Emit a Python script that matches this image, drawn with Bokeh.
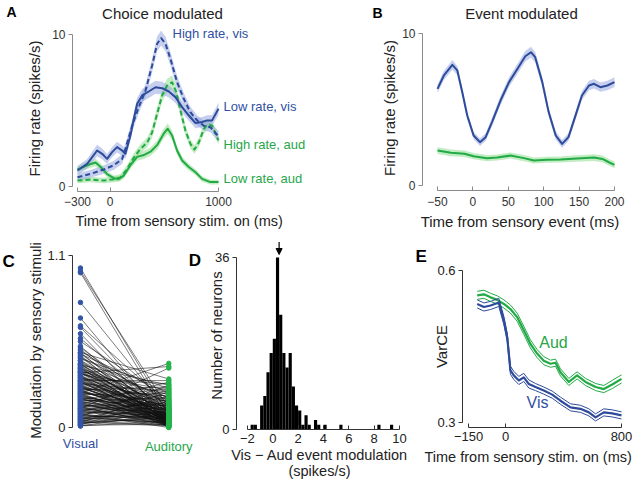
import numpy as np
from bokeh.plotting import figure
from bokeh.layouts import column, row
from bokeh.models import Label, FixedTicker, Arrow, NormalHead, Title, LinearAxis
from bokeh.core.properties import value
from bokeh.embed import file_html
from bokeh.resources import INLINE

FONT = "Liberation Sans"
BLUE = "#2d4a9b"
BLUE_BAND = "#97a9e0"
GREEN = "#22aa46"
GREEN_BAND = "#8fdc8f"
BLUE_TXT = "#3050a3"
GREEN_TXT = "#27a64a"
TXT = "#222222"
BASE_SHIFT = 0.37  # em; where the renderer puts an "alphabetic" baseline vs. the target

# ---------------- Panel A: choice modulated (time ms, firing rate spikes/s)
a_t_lowvis = [-300, -211, -119, -73, -27, 19, 65, 111, 142, 188, 219, 250, 296, 357, 419, 480, 542, 603, 665, 726, 788, 849, 895, 941, 1000]
a_v_lowvis = [1.05, 1.49, 2.37, 2.15, 1.82, 2.26, 2.59, 2.37, 2.15, 3.36, 4.45, 5.44, 5.99, 6.25, 6.53, 6.47, 6.25, 5.88, 5.22, 4.67, 4.17, 4.24, 4.35, 4.35, 5.11]
a_s_lowvis = [0.30, 0.32, 0.38, 0.35, 0.32, 0.33, 0.36, 0.34, 0.32, 0.35, 0.38, 0.40, 0.42, 0.42, 0.43, 0.42, 0.40, 0.38, 0.37, 0.35, 0.33, 0.33, 0.34, 0.36, 0.40]

a_t_highvis = [-300, -180, -57, 35, 111, 142, 204, 265, 327, 388, 434, 471, 511, 557, 618, 680, 741, 803, 864, 926, 1000]
a_v_highvis = [0.61, 0.83, 1.12, 1.40, 1.80, 2.48, 4.00, 5.22, 6.31, 7.96, 9.39, 9.76, 9.39, 8.40, 6.86, 5.77, 4.89, 4.35, 4.00, 3.90, 3.30]
a_s_highvis = [0.25, 0.26, 0.28, 0.30, 0.32, 0.35, 0.38, 0.40, 0.42, 0.45, 0.48, 0.50, 0.48, 0.45, 0.42, 0.38, 0.35, 0.33, 0.32, 0.33, 0.36]

a_t_highaud = [-300, -180, -57, 19, 96, 157, 219, 280, 342, 388, 434, 480, 526, 572, 612, 649, 695, 741, 778, 818, 864, 901, 941, 1000]
a_v_highaud = [0.39, 0.46, 0.39, 0.46, 0.60, 1.15, 1.90, 2.48, 2.89, 3.55, 4.78, 5.99, 6.64, 6.86, 6.20, 5.00, 3.68, 2.80, 2.43, 2.89, 3.77, 4.10, 4.00, 3.03]
a_s_highaud = [0.18, 0.18, 0.18, 0.20, 0.22, 0.25, 0.28, 0.30, 0.32, 0.35, 0.40, 0.42, 0.45, 0.45, 0.42, 0.38, 0.34, 0.30, 0.28, 0.30, 0.33, 0.32, 0.30, 0.28]

a_t_lowaud = [-300, -211, -134, -88, -27, 35, 81, 127, 188, 250, 311, 373, 434, 496, 532, 572, 618, 665, 726, 788, 849, 926, 1000]
a_v_lowaud = [1.12, 1.40, 1.58, 1.30, 0.81, 0.55, 0.50, 0.72, 1.40, 1.95, 2.07, 2.29, 2.72, 3.49, 3.80, 3.36, 2.37, 1.71, 1.28, 0.94, 0.50, 0.29, 0.29]
a_s_lowaud = [0.22, 0.24, 0.25, 0.23, 0.20, 0.18, 0.18, 0.20, 0.24, 0.26, 0.26, 0.27, 0.30, 0.32, 0.34, 0.32, 0.28, 0.25, 0.22, 0.20, 0.18, 0.16, 0.16]

a_xticks = [-300, 0, 1000]
a_yticks = [0, 10]
a_labels = ["High rate, vis", "Low rate, vis", "High rate, aud", "Low rate, aud"]

# ---------------- Panel B: event modulated
b_t_vis = [-50, -41, -29, -22, -15, -8, 1, 10, 18, 27, 39, 51, 63, 74, 82, 88, 98, 107, 117, 126, 135, 145, 154, 164, 171, 180, 190, 200]
b_v_vis = [6.36, 7.24, 7.94, 7.57, 6.14, 4.61, 3.29, 2.85, 3.18, 4.17, 5.59, 6.80, 7.68, 8.50, 8.77, 8.44, 6.80, 4.83, 3.29, 2.74, 3.18, 4.61, 5.92, 6.58, 6.69, 6.47, 6.58, 6.80]
b_s_vis = [0.28, 0.30, 0.32, 0.30, 0.28, 0.26, 0.25, 0.25, 0.26, 0.28, 0.30, 0.32, 0.33, 0.35, 0.36, 0.35, 0.32, 0.29, 0.26, 0.25, 0.26, 0.28, 0.30, 0.31, 0.31, 0.30, 0.31, 0.32]
b_t_aud = [-50, -31, -12, 1, 20, 34, 53, 72, 86, 105, 124, 147, 171, 183, 192, 200]
b_v_aud = [2.30, 2.15, 2.09, 1.93, 1.80, 1.84, 1.97, 1.80, 1.64, 1.69, 1.71, 1.78, 1.84, 1.75, 1.53, 1.36]
b_s_aud = [0.22, 0.22, 0.21, 0.21, 0.20, 0.20, 0.20, 0.20, 0.20, 0.20, 0.20, 0.21, 0.22, 0.22, 0.22, 0.22]
b_xticks = [-50, 0, 50, 100, 150, 200]
b_yticks = [0, 10]

# ---------------- Panel C: modulation by sensory stimuli (per neuron)
c_categories = ["Visual", "Auditory"]
c_visual = [1.02, 1.00, 0.99, 0.80, 0.70, 0.65, 0.64, 0.60, 0.57, 0.55, 0.52, 0.51,
            0.22, 0.35, 0.12, 0.48, 0.30,
            0.50, 0.49, 0.48, 0.47, 0.47, 0.46, 0.45, 0.45, 0.44, 0.43, 0.43, 0.42, 0.41, 0.41, 0.40,
            0.40, 0.39, 0.38, 0.38, 0.37, 0.36, 0.36, 0.35, 0.35, 0.34, 0.33, 0.33, 0.32, 0.32, 0.31,
            0.30, 0.30, 0.29, 0.29, 0.28, 0.28, 0.27, 0.27, 0.26, 0.26, 0.25, 0.25, 0.24, 0.24, 0.23,
            0.23, 0.22, 0.22, 0.21, 0.21, 0.20, 0.20, 0.19, 0.19, 0.18, 0.18, 0.17, 0.17, 0.16, 0.16,
            0.15, 0.15, 0.14, 0.14, 0.13, 0.13, 0.12, 0.12, 0.11, 0.11, 0.10, 0.10, 0.09, 0.09, 0.08,
            0.08, 0.07, 0.07, 0.06, 0.06, 0.05, 0.05, 0.04, 0.04, 0.03, 0.03, 0.02, 0.02, 0.01, 0.01,
            0.015, 0.025, 0.035, 0.045, 0.055, 0.065, 0.075, 0.085, 0.095, 0.105, 0.115, 0.125, 0.135,
            0.145, 0.155, 0.165, 0.175, 0.185, 0.195, 0.205, 0.215, 0.225, 0.235, 0.245, 0.255, 0.265,
            0.275, 0.285, 0.295, 0.305, 0.315, 0.325, 0.335, 0.345, 0.355, 0.365, 0.375, 0.385, 0.395, 0.405]
c_auditory = [0.08, 0.12, 0.05, 0.10, 0.03, 0.15, 0.06, 0.02, 0.09, 0.18, 0.04, 0.11,
              0.41, 0.39, 0.38, 0.31, 0.30,
              0.06, 0.14, 0.02, 0.22, 0.09, 0.01, 0.17, 0.05, 0.25, 0.11, 0.03, 0.08, 0.19, 0.04, 0.13,
              0.27, 0.07, 0.02, 0.16, 0.10, 0.21, 0.05, 0.01, 0.12, 0.24, 0.08, 0.03, 0.15, 0.06, 0.28,
              0.09, 0.02, 0.18, 0.04, 0.11, 0.23, 0.07, 0.01, 0.14, 0.05, 0.20, 0.10, 0.03, 0.26, 0.08,
              0.13, 0.02, 0.17, 0.06, 0.22, 0.04, 0.09, 0.15, 0.01, 0.12, 0.25, 0.07, 0.19, 0.03, 0.11,
              0.05, 0.29, 0.08, 0.14, 0.02, 0.21, 0.06, 0.10, 0.16, 0.04, 0.24, 0.09, 0.01, 0.13, 0.18,
              0.05, 0.27, 0.07, 0.12, 0.03, 0.20, 0.08, 0.15, 0.02, 0.23, 0.06, 0.11, 0.17, 0.04, 0.09,
              0.02, 0.07, 0.01, 0.04, 0.10, 0.03, 0.06, 0.00, 0.08, 0.02, 0.05, 0.12, 0.01,
              0.09, 0.03, 0.06, 0.14, 0.02, 0.04, 0.07, 0.01, 0.11, 0.05, 0.03, 0.08, 0.00,
              0.06, 0.13, 0.02, 0.09, 0.04, 0.01, 0.07, 0.16, 0.03, 0.05, 0.10, 0.02, 0.06, 0.04]
c_yticks = [0, 1.1]

# ---------------- Panel D: histogram of Vis - Aud event modulation
d_bin_start = -1.75
d_bin_width = 0.25
d_counts = [1, 1, 0, 5, 7, 12, 16, 19, 36, 24, 16, 13, 16, 9, 5, 4, 1, 3, 1, 0, 2, 1, 0, 1,
            0, 0, 0, 0, 1, 0, 0, 0, 0, 0, 0, 0, 0, 0, 0, 0, 1, 0, 0, 0, 1]
d_median = 0.5
d_xticks = [-2, 0, 2, 4, 6, 8, 10]
d_yticks = [0, 36]

# ---------------- Panel E: VarCE
e_t_aud = [-195, -149, -103, -57, -11, 34, 80, 126, 172, 218, 264, 310, 345, 379, 437, 494, 552, 621, 678, 736, 800]
e_v_aud = [0.551, 0.553, 0.547, 0.542, 0.534, 0.524, 0.508, 0.482, 0.455, 0.436, 0.422, 0.416, 0.418, 0.399, 0.380, 0.393, 0.380, 0.370, 0.366, 0.375, 0.386]
e_s_aud = [0.008, 0.008, 0.008, 0.008, 0.008, 0.008, 0.008, 0.008, 0.008, 0.008, 0.008, 0.007, 0.007, 0.007, 0.007, 0.007, 0.007, 0.007, 0.007, 0.008, 0.008]
e_t_vis = [-195, -149, -103, -46, -11, 12, 34, 57, 92, 126, 161, 207, 264, 322, 379, 448, 517, 575, 621, 678, 736, 800]
e_v_vis = [0.534, 0.528, 0.531, 0.537, 0.501, 0.468, 0.403, 0.393, 0.383, 0.389, 0.376, 0.370, 0.363, 0.355, 0.343, 0.330, 0.327, 0.320, 0.310, 0.320, 0.318, 0.314]
e_s_vis = [0.008, 0.008, 0.008, 0.008, 0.008, 0.008, 0.008, 0.008, 0.008, 0.008, 0.008, 0.007, 0.007, 0.007, 0.007, 0.007, 0.007, 0.007, 0.007, 0.007, 0.007, 0.007]
e_xtick_pos = [-255, 0, 800]
e_xtick_lab = ["\u2212150", "0", "800"]
e_yticks = [0.3, 0.6]


def lin(p1, v1, p2, v2):
    k = (v2 - v1) / (p2 - p1)
    return lambda p: v1 + (p - p1) * k


def no_align(p):
    try:
        p.frame_align = False
    except Exception:
        pass


def panel(box, frame, xmap, ymap):
    bl, bt, br, bb = box
    fl, ft, fr, fb = frame
    fx = lin(*xmap)
    fy = lin(*ymap)
    p = figure(width=br - bl, height=bb - bt,
               x_range=(fx(fl), fx(fr)), y_range=(fy(fb), fy(ft)),
               output_backend="svg", toolbar_location=None,
               min_border_left=fl - bl, min_border_right=br - fr,
               min_border_top=ft - bt, min_border_bottom=bb - fb)
    p.xgrid.visible = False
    p.ygrid.visible = False
    p.outline_line_color = None
    p.background_fill_color = "white"
    p.border_fill_color = "white"
    no_align(p)
    return p, fx, fy


def text_canvas(box):
    bl, bt, br, bb = box
    p = figure(width=br - bl, height=bb - bt, x_range=(bl, br), y_range=(bb, bt),
               output_backend="svg", toolbar_location=None,
               x_axis_location=None, y_axis_location=None, min_border=0)
    p.xgrid.visible = False
    p.ygrid.visible = False
    p.outline_line_color = None
    p.background_fill_color = "white"
    p.border_fill_color = "white"
    no_align(p)
    return p


def style(p, xticks, yticks, xb, yb, axis_color, lab_color, tick_size,
          xover=None, yover=None, xstand=5, ystand=3):
    for ax, ticks, b, over in ((p.xaxis[0], xticks, xb, xover), (p.yaxis[0], yticks, yb, yover)):
        ax.ticker = FixedTicker(ticks=ticks)
        ax.bounds = b
        ax.axis_line_color = axis_color
        ax.major_tick_line_color = axis_color
        ax.minor_tick_line_color = None
        ax.major_label_text_font = FONT
        ax.major_label_text_font_size = tick_size
        ax.major_label_text_color = lab_color
        ax.axis_label_text_font = FONT
        ax.axis_label_text_font_style = "normal"
        ax.axis_label_text_font_size = "15px"
        ax.axis_label_text_color = TXT
        if over:
            ax.major_label_overrides = over
    p.xaxis.major_tick_in = 4
    p.xaxis.major_tick_out = 0
    p.yaxis.major_tick_in = 0
    p.yaxis.major_tick_out = 4
    p.xaxis.major_label_standoff = xstand
    p.yaxis.major_label_standoff = ystand


def lab(p, fx, fy, x, y, text, size, color=TXT, align="left", bold=False):
    # y is the target baseline in picture pixels
    p.add_layout(Label(x=fx(x), y=fy(y - BASE_SHIFT * size), text=text, text_font=FONT,
                       text_font_size=f"{size}px", text_color=color,
                       text_align=align, text_baseline="alphabetic",
                       text_font_style="bold" if bold else "normal"))


def below_title(p, text, offset, standoff):
    p.add_layout(Title(text=text, align="left", offset=offset, vertical_align="top",
                       standoff=standoff, text_font=FONT, text_font_size="14.5px",
                       text_font_style="normal", text_color=TXT), "below")


def ctext(p, x, y, text, size, bold=False, align="left", color="#000000"):
    p.text(x=[x], y=[y - BASE_SHIFT * size], text=[text], text_font=value(FONT),
           text_font_size=f"{size}px", text_font_style="bold" if bold else "normal",
           text_align=align, text_baseline="alphabetic", text_color=color)


# ======== header (panel letters and titles of the top row)
pH = text_canvas((0, 0, 640, 22))
ctext(pH, 6, 17, "A", 14, bold=True)
ctext(pH, 162, 18.5, "Choice modulated", 15, align="center", color=TXT)
ctext(pH, 372, 17.3, "B", 14, bold=True)
ctext(pH, 521, 18.5, "Event modulated", 15, align="center", color=TXT)

# ======== A
pA, fxA, fyA = panel((0, 22, 318, 241), (72, 25, 318, 191), (77, -300, 218, 1000), (186, 0, 34, 10))
for t, v, s, band in ((a_t_lowaud, a_v_lowaud, a_s_lowaud, GREEN_BAND),
                      (a_t_highaud, a_v_highaud, a_s_highaud, GREEN_BAND),
                      (a_t_lowvis, a_v_lowvis, a_s_lowvis, BLUE_BAND),
                      (a_t_highvis, a_v_highvis, a_s_highvis, BLUE_BAND)):
    v = np.array(v); s = np.array(s)
    pA.varea(x=t, y1=v - s, y2=v + s, fill_color=band, fill_alpha=0.55)
for t, v, col, dash in ((a_t_lowaud, a_v_lowaud, GREEN, "solid"),
                        (a_t_highaud, a_v_highaud, GREEN, "5 3"),
                        (a_t_lowvis, a_v_lowvis, BLUE, "solid"),
                        (a_t_highvis, a_v_highvis, BLUE, "5 3")):
    pA.line(t, v, line_color=col, line_width=2, line_dash=dash, line_join="round")
style(pA, a_xticks, a_yticks, (-300, 1000), (0, 10), "#8a8a8a", "#333333", "12px",
      xover={-300: "\u2212300"}, xstand=5, ystand=3)
pA.yaxis.axis_label = "Firing rate (spikes/s)"
pA.yaxis.axis_label_standoff = 6
below_title(pA, "Time from sensory stim. on (ms)", 3, 9)
lab(pA, fxA, fyA, 172, 38.3, a_labels[0], 13, BLUE_TXT)
lab(pA, fxA, fyA, 223, 110.5, a_labels[1], 13, BLUE_TXT)
lab(pA, fxA, fyA, 223, 149.0, a_labels[2], 13, GREEN_TXT)
lab(pA, fxA, fyA, 223, 183.0, a_labels[3], 13, GREEN_TXT)

# ======== B
pB, fxB, fyB = panel((318, 22, 640, 241), (422, 25, 617, 190), (437, -50, 614, 200), (185, 0, 33, 10))
for t, v, s, band in ((b_t_aud, b_v_aud, b_s_aud, GREEN_BAND), (b_t_vis, b_v_vis, b_s_vis, BLUE_BAND)):
    v = np.array(v); s = np.array(s)
    pB.varea(x=t, y1=v - s, y2=v + s, fill_color=band, fill_alpha=0.55)
pB.line(b_t_aud, b_v_aud, line_color=GREEN, line_width=2, line_join="round")
pB.line(b_t_vis, b_v_vis, line_color=BLUE, line_width=2, line_join="round")
style(pB, b_xticks, b_yticks, (-50, 200), (0, 10), "#8a8a8a", "#333333", "12px",
      xover={-50: "\u221250"}, xstand=6, ystand=3)
pB.xaxis.axis_label = "Time from sensory event (ms)"
pB.yaxis.axis_label = "Firing rate (spikes/s)"
pB.xaxis.axis_label_standoff = 4
pB.yaxis.axis_label_standoff = 1

# ======== C letter
pCL = text_canvas((0, 241, 24, 485))
ctext(pCL, 2, 267, "C", 17, bold=True)

# ======== C
pC, fxC, fyC = panel((24, 241, 205, 485), (71, 250, 205, 430), (79, 0, 168, 1), (427, 0, 255, 1.1))
n = len(c_visual)
x_vis = [c_categories.index("Visual")] * n
x_aud = [c_categories.index("Auditory")] * n
pC.segment(x0=x_vis, y0=c_visual, x1=x_aud, y1=c_auditory, line_color="#111111",
           line_width=0.65, line_alpha=0.85)
pC.scatter(x_vis, c_visual, size=4.5, fill_color="#3355a8", line_color="#3355a8")
pC.scatter(x_aud, c_auditory, size=4.5, fill_color="#25b34a", line_color="#25b34a")
style(pC, [0], c_yticks, "auto", (0, 1.1), "#333333", "#222222", "13px",
      yover={0: "0"}, ystand=3)
pC.yaxis.axis_label = "Modulation by sensory stimuli"
pC.yaxis.axis_label_standoff = 0
# category names under each column, coloured like the column
cx = pC.xaxis[0]
cx.major_label_overrides = {0: c_categories[0]}
cx.axis_line_color = None
cx.major_tick_line_color = None
cx.major_tick_in = 0
cx.major_tick_out = 0
cx.major_label_text_color = BLUE_TXT
cx.major_label_standoff = 5
cx2 = LinearAxis(ticker=FixedTicker(ticks=[1]), major_label_overrides={1: c_categories[1]},
                 axis_line_color=None, major_tick_line_color=None, minor_tick_line_color=None,
                 major_tick_in=0, major_tick_out=0, major_label_text_color=GREEN_TXT,
                 major_label_text_font=FONT, major_label_text_font_size="13px",
                 major_label_standoff=-15)
pC.add_layout(cx2, "below")
lab(pC, fxC, fyC, 188, 266.7, "D", 17, "#000000", bold=True)

# ======== D
pD, fxD, fyD = panel((205, 241, 412, 485), (235, 241, 402, 429), (246, -2, 399, 10), (429, 0, 257, 36))
lefts = [d_bin_start + i * d_bin_width for i in range(len(d_counts))]
L = [l for l, c in zip(lefts, d_counts) if c > 0]
T = [c for c in d_counts if c > 0]
pD.quad(left=L, right=[l + d_bin_width for l in L], bottom=0, top=T,
        fill_color="#000000", line_color=None)
pD.add_layout(Arrow(end=NormalHead(size=6, fill_color="#000000", line_color="#000000", line_width=1),
                    x_start=d_median, y_start=fyD(241.5), x_end=d_median, y_end=fyD(254),
                    line_color="#000000", line_width=1.2))
style(pD, d_xticks, d_yticks, (-2, 10), (0, 36), "#333333", "#222222", "13px",
      xover={-2: "\u22122"}, xstand=4, ystand=3)
pD.yaxis.axis_label = "Number of neurons"
pD.yaxis.axis_label_standoff = -13
pD.xaxis.axis_label = "Vis \u2212 Aud event modulation\n(spikes/s)"
pD.xaxis.axis_label_text_font_size = "14.5px"
pD.xaxis.axis_label_text_line_height = 1.05
pD.xaxis.axis_label_standoff = 1

# ======== E
pE, fxE, fyE = panel((412, 241, 640, 485), (462, 265, 625, 427), (505, 0, 621, 800), (422, 0.3, 270, 0.6))
for t, v, s, col in ((e_t_aud, e_v_aud, e_s_aud, GREEN), (e_t_vis, e_v_vis, e_s_vis, BLUE)):
    v = np.array(v); s = np.array(s)
    pE.line(t, v + s, line_color=col, line_width=1, line_join="round")
    pE.line(t, v - s, line_color=col, line_width=1, line_join="round")
    pE.line(t, v, line_color=col, line_width=2.2, line_join="round")
style(pE, e_xtick_pos, e_yticks, (e_xtick_pos[0], e_xtick_pos[-1]), (0.3, 0.6), "#333333", "#222222", "13px",
      xover=dict(zip(e_xtick_pos, e_xtick_lab)), xstand=4, ystand=3)
pE.yaxis.axis_label = "VarCE"
pE.yaxis.axis_label_standoff = -16
below_title(pE, "Time from sensory stim. on (ms)", -38, 10)
pE.title.text = "E"
pE.title.align = "left"
pE.title.offset = -47
pE.title.standoff = 0
pE.title.text_font = FONT
pE.title.text_font_size = "17px"
pE.title.text_font_style = "bold"
pE.title.text_color = "#000000"
lab(pE, fxE, fyE, 553, 348.3, "Aud", 16, GREEN_TXT, align="center")
lab(pE, fxE, fyE, 537, 408.3, "Vis", 16, BLUE_TXT, align="center")

layout = column(pH, row(pA, pB), row(pCL, pC, pD, pE))
open("out.html", "w").write(file_html(layout, INLINE, title="Figure"))
